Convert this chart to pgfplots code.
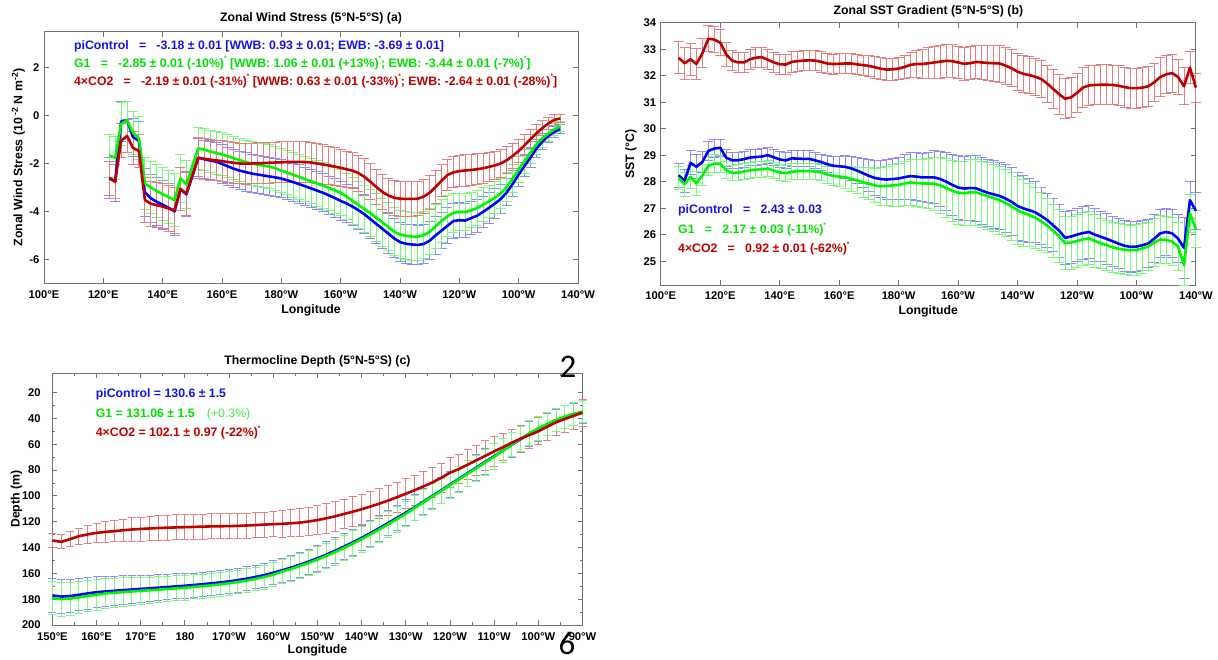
\documentclass[border=0pt]{standalone}
\usepackage{fontspec}
\setmainfont{Liberation Sans}
\newfontfamily\calib{Carlito}
\usepackage{pgfplots}
\usepackage{pgfplotstable}
\pgfplotsset{compat=1.18}
\definecolor{cB}{RGB}{0,0,255}
\definecolor{cG}{RGB}{0,245,0}
\definecolor{cR}{RGB}{190,0,0}
\definecolor{cBL}{RGB}{140,140,255}
\definecolor{cGL}{RGB}{120,250,120}
\definecolor{cRL}{RGB}{228,128,128}
\definecolor{tB}{RGB}{20,20,235}
\definecolor{tG}{RGB}{0,225,0}
\definecolor{tGL}{RGB}{70,230,70}
\definecolor{tR}{RGB}{195,0,0}
\newcommand\fT{\fontsize{12.3}{14}\selectfont\bfseries}
\newcommand\fK{\fontsize{11.2}{13}\selectfont\bfseries}
\newcommand\st{\raisebox{1.0ex}{\fontsize{6.5}{6.5}\selectfont *}}

\pgfplotstableread{
x b be g ge r re
122 -2.60 0.85 -1.67 0.9 -2.62 0.7
124 -2.75 0.85 -1.76 0.9 -2.76 0.7
126 -0.25 0.85 -0.35 0.9 -1.05 0.7
128 -0.20 0.8 -0.20 0.8 -0.85 0.7
130 -0.90 0.8 -0.72 0.9 -1.35 0.7
132 -1.05 0.8 -0.95 0.9 -1.48 0.7
134 -3.20 1.0 -2.83 1.1 -3.52 0.95
136 -3.45 1.0 -3.00 1.1 -3.68 0.95
138 -3.60 1.0 -3.15 1.1 -3.74 0.95
140 -3.72 1.0 -3.28 1.1 -3.80 0.95
142 -3.85 1.0 -3.40 1.1 -3.88 0.95
144 -4.00 1.0 -3.53 1.1 -3.95 0.95
146 -3.07 0.9 -2.62 1.0 -3.07 0.9
148 -3.29 0.9 -2.87 1.0 -3.25 0.9
152 -1.76 .8 -1.37 .88 -1.76 .85
154 -1.82 .8 -1.42 .88 -1.80 .85
156 -1.88 .8 -1.50 .88 -1.84 .85
158 -1.92 .8 -1.56 .88 -1.87 .85
160 -2.02 .8 -1.62 .9 -1.90 .85
162 -2.12 .8 -1.70 .9 -1.94 .85
164 -2.22 .8 -1.78 .9 -1.97 .85
166 -2.30 .8 -1.86 .9 -2.00 .85
168 -2.36 .8 -1.94 .9 -2.01 .85
170 -2.42 .8 -2.00 .9 -2.00 .85
172 -2.46 .8 -2.05 .92 -1.99 .85
174 -2.50 .8 -2.09 .92 -1.98 .85
176 -2.54 .8 -2.13 .92 -1.97 .85
178 -2.58 .8 -2.20 .92 -1.96 .85
180 -2.63 .8 -2.30 .92 -1.95 .85
182 -2.70 .8 -2.38 .93 -1.94 .85
184 -2.78 .8 -2.47 .93 -1.93 .85
186 -2.86 .8 -2.56 .93 -1.93 .85
188 -2.95 .8 -2.65 .94 -1.94 .85
190 -3.04 .8 -2.74 .94 -1.96 .85
192 -3.13 .8 -2.83 .95 -2.00 .83
194 -3.22 .8 -2.92 .95 -2.04 .82
196 -3.33 .8 -3.02 .95 -2.08 .8
198 -3.44 .8 -3.12 .96 -2.13 .8
200 -3.56 .8 -3.22 .96 -2.18 .78
202 -3.67 .8 -3.38 .97 -2.24 .76
204 -3.80 .8 -3.56 .97 -2.30 .75
206 -3.95 .8 -3.73 .98 -2.40 .75
208 -4.12 .8 -3.90 .98 -2.56 .75
210 -4.32 .8 -4.08 .98 -2.76 .75
212 -4.52 .82 -4.26 1.0 -2.98 .74
214 -4.72 .82 -4.45 1.0 -3.18 .73
216 -4.92 .82 -4.64 1.0 -3.33 .72
218 -5.12 .82 -4.84 1.0 -3.43 .72
220 -5.28 .82 -4.96 1.0 -3.47 .72
222 -5.35 .82 -5.02 1.0 -3.48 .72
224 -5.38 .82 -5.05 1.0 -3.48 .72
226 -5.40 .8 -5.05 1.0 -3.47 .71
228 -5.36 .8 -5.00 .98 -3.38 .7
230 -5.22 .8 -4.85 .96 -3.22 .7
232 -5.00 .78 -4.62 .93 -2.98 .68
234 -4.80 .76 -4.40 .9 -2.72 .66
236 -4.60 .75 -4.20 .85 -2.48 .65
238 -4.40 .74 -4.06 .8 -2.37 .65
240 -4.37 .73 -4.02 .78 -2.32 .65
242 -4.38 .72 -4.03 .76 -2.29 .65
244 -4.28 .7 -3.95 .74 -2.27 .65
246 -4.18 .68 -3.86 .72 -2.24 .64
248 -4.02 .66 -3.72 .7 -2.20 .63
250 -3.85 .64 -3.58 .68 -2.14 .62
252 -3.67 .62 -3.42 .65 -2.08 .6
254 -3.48 .6 -3.25 .62 -2.00 .58
256 -3.20 .57 -2.98 .6 -1.86 .55
258 -2.85 .54 -2.62 .57 -1.68 .52
260 -2.46 .5 -2.25 .54 -1.48 .48
262 -2.10 .46 -1.90 .5 -1.24 .44
264 -1.75 .42 -1.55 .46 -0.98 .4
266 -1.38 .38 -1.20 .42 -0.74 .36
268 -1.08 .33 -0.95 .37 -0.52 .32
270 -0.85 .28 -0.75 .32 -0.33 .27
272 -0.68 .23 -0.58 .26 -0.18 .22
274 -0.56 .18 -0.46 .2 -0.12 .17
}\tabA

\pgfplotstableread{
x b be g ge r re
106 28.24 .45 28.14 .45 32.68 .6
108 28.03 .45 27.90 .45 32.47 .6
110 28.71 .45 28.18 .45 32.62 .6
112 28.56 .45 27.93 .45 32.44 .6
114 28.75 .4 28.24 .4 32.85 .55
116 29.16 .35 28.60 .35 33.40 .5
118 29.25 .33 28.68 .33 33.36 .5
120 29.28 .32 28.68 .32 33.25 .5
122 28.90 .32 28.43 .32 32.80 .45
124 28.81 .3 28.33 .3 32.57 .38
126 28.81 .3 28.34 .3 32.50 .38
128 28.85 .3 28.38 .3 32.50 .38
130 28.91 .3 28.43 .3 32.62 .38
132 28.93 .3 28.45 .3 32.68 .38
134 28.95 .3 28.47 .3 32.70 .38
136 29.00 .3 28.49 .3 32.60 .38
138 28.92 .3 28.42 .3 32.50 .38
140 28.84 .3 28.35 .3 32.43 .38
142 28.80 .3 28.32 .3 32.42 .38
144 28.88 .3 28.37 .3 32.52 .38
146 28.87 .3 28.40 .3 32.55 .38
148 28.86 .3 28.40 .3 32.57 .38
150 28.86 .3 28.40 .3 32.58 .38
152 28.80 .3 28.38 .3 32.57 .38
154 28.74 .3 28.35 .3 32.52 .38
156 28.66 .32 28.27 .32 32.46 .38
158 28.60 .35 28.22 .35 32.44 .38
160 28.58 .38 28.19 .38 32.45 .38
162 28.56 .42 28.17 .42 32.46 .38
164 28.50 .46 28.10 .46 32.46 .38
166 28.42 .5 28.05 .5 32.43 .38
168 28.32 .55 27.97 .55 32.40 .38
170 28.22 .6 27.92 .6 32.37 .38
172 28.14 .65 27.86 .65 32.32 .42
174 28.10 .7 27.82 .7 32.26 .42
176 28.08 .75 27.84 .75 32.23 .42
178 28.10 .78 27.86 .78 32.24 .42
180 28.12 .8 27.88 .8 32.27 .42
182 28.17 .84 27.93 .84 32.33 .45
184 28.21 .88 27.97 .88 32.41 .48
186 28.19 .9 27.95 .9 32.44 .5
188 28.16 .92 27.93 .92 32.44 .55
190 28.16 .95 27.93 .95 32.47 .58
192 28.16 1.0 27.92 1.0 32.50 .6
194 28.10 1.05 27.86 1.05 32.53 .62
196 28.00 1.1 27.76 1.1 32.56 .62
198 27.88 1.15 27.66 1.15 32.55 .62
200 27.78 1.2 27.58 1.2 32.50 .62
202 27.74 1.22 27.56 1.22 32.45 .62
204 27.76 1.24 27.60 1.24 32.47 .62
206 27.75 1.25 27.60 1.25 32.52 .62
208 27.66 1.26 27.52 1.26 32.50 .65
210 27.58 1.26 27.45 1.26 32.48 .67
212 27.52 1.27 27.38 1.27 32.47 .68
214 27.46 1.28 27.30 1.28 32.46 .7
216 27.36 1.28 27.20 1.28 32.38 .7
218 27.24 1.28 27.07 1.28 32.28 .7
220 27.08 1.28 26.92 1.28 32.15 .7
222 26.99 1.25 26.82 1.25 32.07 .7
224 26.92 1.2 26.74 1.2 32.02 .7
226 26.84 1.15 26.64 1.15 31.96 .7
228 26.70 1.08 26.50 1.08 31.87 .7
230 26.55 1.02 26.34 1.02 31.70 .7
232 26.35 1.0 26.14 1.0 31.50 .75
234 26.15 1.0 25.94 1.0 31.30 .75
236 25.88 1.0 25.68 1.0 31.13 .75
238 25.93 1.0 25.70 1.0 31.18 .75
240 26.00 1.0 25.76 1.0 31.35 .75
242 26.06 1.0 25.82 1.0 31.55 .75
244 26.10 1.0 25.86 1.0 31.63 .75
246 26.00 1.0 25.76 1.0 31.65 .75
248 25.92 .95 25.68 .95 31.66 .75
250 25.84 .95 25.60 .95 31.66 .75
252 25.75 .95 25.52 .95 31.65 .75
254 25.66 .95 25.47 .95 31.62 .75
256 25.58 .95 25.43 .95 31.57 .75
258 25.54 .95 25.41 .95 31.53 .75
260 25.55 .95 25.42 .95 31.53 .75
262 25.60 .95 25.48 .95 31.55 .75
264 25.67 .9 25.55 .9 31.60 .75
266 25.85 .9 25.70 .9 31.75 .72
268 26.05 .9 25.82 .9 31.95 .72
270 26.10 .9 25.80 .9 32.05 .72
272 26.05 .9 25.74 .9 32.10 .72
274 25.85 .9 25.55 .9 31.95 .65
276 25.50 1.15 24.85 .75 31.60 .7
278 27.30 .7 26.80 .7 32.30 .6
280 26.90 .7 26.20 .7 31.55 .55
}\tabB

\pgfplotstableread{
x b be g ge r re
150 177.1 13 179.1 13 134.5 5.2
152 178.0 13 180.0 13 135.6 5.4
154 177.6 12.8 179.6 12.8 133.5 5.8
156 176.6 12.5 178.6 12.5 131.2 6.3
158 175.5 12.2 177.5 12.2 129.8 6.8
160 174.6 12 176.6 12 128.6 7.3
162 174.0 11.7 175.5 11.7 127.9 7.8
164 173.5 11.4 175.0 11.4 127.3 8.2
166 173.0 11.1 174.5 11.1 126.6 8.6
168 172.5 10.8 174.0 10.8 126.0 9.0
170 172.0 10.5 173.5 10.5 125.6 9.3
172 171.6 10.3 173.1 10.3 125.2 9.5
174 171.1 10.1 172.6 10.1 124.9 9.7
176 170.6 9.9 172.1 9.9 124.6 9.7
178 170.1 9.7 171.6 9.7 124.4 9.7
180 169.6 9.5 171.1 9.5 124.2 9.7
182 169.0 9.3 170.5 9.3 124.0 9.7
184 168.4 9.2 169.9 9.2 123.8 9.7
186 167.7 9.2 169.2 9.2 123.6 9.7
188 167.0 9.2 168.5 9.2 123.5 9.7
190 166.2 9.2 167.7 9.2 123.4 9.7
192 165.2 9.2 166.7 9.2 123.2 9.7
194 164.1 9.2 165.6 9.2 122.9 9.7
196 162.8 9.2 164.3 9.2 122.6 9.7
198 161.3 9.3 162.8 9.3 122.2 9.7
200 159.5 9.4 161.0 9.4 121.9 9.8
202 157.6 9.5 158.6 9.5 121.6 10.2
204 155.6 9.6 156.6 9.6 121.2 10.5
206 153.3 9.7 154.3 9.7 120.7 10.8
208 150.9 9.8 151.9 9.8 119.8 11.0
210 148.3 9.9 149.3 9.9 118.7 11.2
212 145.5 10 146.5 10 117.3 11.4
214 142.5 10 143.5 10 115.8 11.5
216 139.3 10 140.3 10 114.0 11.5
218 136.0 10 137.0 10 112.2 11.5
220 132.5 10 133.5 10 110.3 11.5
222 128.8 10 129.8 10 108.2 11.5
224 125.0 10 126.0 10 106.0 11.5
226 121.0 10 122.0 10 103.6 11.5
228 117.0 10 118.0 10 101.0 11.5
230 113.0 10 114.0 10 98.3 11.5
232 108.8 10 109.3 10 95.6 11.5
234 104.5 10 105.0 10 92.6 11.5
236 100.0 10 100.5 10 89.6 11.5
238 95.6 10 96.1 10 86.0 11.5
240 91.2 10 91.7 10 82.0 11.5
242 86.8 10 87.3 10 79.2 11.5
244 82.4 10 82.9 10 75.8 11.5
246 78.0 10 78.5 10 72.4 11.5
248 73.5 10 74.0 10 68.9 11.5
250 69.2 10 69.7 10 65.5 11.5
252 64.8 9.5 64.8 9.5 62.2 10.5
254 60.4 9.5 60.2 9.5 58.8 10.5
256 56.0 9.5 55.7 9.5 55.6 10.5
258 51.8 9.5 51.4 9.5 52.8 10.5
260 48.0 9.5 47.6 9.5 50.0 10.5
262 44.6 8.8 44.2 8.8 46.4 10.5
264 41.5 8.8 41.1 8.8 43.0 10.5
266 39.0 8.8 38.6 8.8 40.4 10.5
268 36.8 8.8 36.4 8.8 37.9 10.5
270 35.0 8.8 34.6 8.8 35.5 10.5
}\tabC

\pgfplotsset{
  panel/.style={
    scale only axis, anchor=south west, clip=false,
    axis line style={draw=black!55, line width=0.9pt},
    tick style={draw=black!55, line width=0.9pt},
    major tick length=5pt, minor tick length=3pt,
    tick align=inside,
    ticklabel style={font=\fK},
    xticklabel style={anchor=base, yshift=-15pt, inner sep=0pt},
    yticklabel style={anchor=east, inner sep=0pt, xshift=-4.5pt},
    every axis title/.style={font=\fT, at={(axis description cs:0.5,1)}, anchor=base},
    every axis x label/.style={font=\fT, at={(axis description cs:0.5,0)}, anchor=base, yshift=-30pt},
  },
  ebar/.style 2 args={draw=none, forget plot, mark=none,
    error bars/y dir=both, error bars/y explicit,
    error bars/error bar style={draw=#1, line width=0.9pt},
    error bars/error mark options={rotate=90, mark size=#2, draw=#1, line width=0.9pt}},
  mline/.style={draw=#1, line width=2.6pt, mark=none, line join=round},
}

\begin{document}
\begin{tikzpicture}
\path[use as bounding box] (0pt,0pt) rectangle (1218pt,659pt);

% ---------------- (a)
\begin{axis}[panel, at={(44pt,375.7pt)}, width=534pt, height=251.6pt,
  xmin=100, xmax=280, ymin=-7, ymax=3.5,
  xtick={100,120,...,280},
  xticklabels={100°E,120°E,140°E,160°E,180°W,160°W,140°W,120°W,100°W,140°W},
  ytick={-6,-4,-2,0,2}, yticklabels={-6,-4,-2,0,2},
  title={Zonal Wind Stress (5°N-5°S) (a)}, title style={yshift=10.4pt},
  xlabel={Longitude},
  ylabel={Zonal Wind Stress (10\textsuperscript{ -2} N m\textsuperscript{-2})},
  every axis y label/.style={font=\fT, rotate=90, anchor=center, at={(axis description cs:-0.048,0.5)}},
]
\addplot[ebar={cBL}{5pt}] table[x=x,y=b,y error=be]{\tabA};
\addplot[ebar={cGL}{5pt}] table[x=x,y=g,y error=ge]{\tabA};
\addplot[ebar={cRL}{5pt}] table[x=x,y=r,y error=re]{\tabA};
\addplot[mline=cB] table[x=x,y=b]{\tabA};
\addplot[mline=cG] table[x=x,y=g]{\tabA};
\addplot[mline=cR] table[x=x,y=r]{\tabA};
\node[anchor=base west, inner sep=0pt, font=\fT, text=tB] at (axis description cs:0.056,0.9304)
  {piControl\ \ \ =\ \ \ -3.18 ± 0.01 [WWB: 0.93 ± 0.01; EWB: -3.69 ± 0.01]};
\node[anchor=base west, inner sep=0pt, font=\fT, text=tG] at (axis description cs:0.056,0.8577)
  {G1\ \ \ =\ \ \ -2.85 ± 0.01 (-10\%)\st\ [WWB: 1.06 ± 0.01 (+13\%)\st; EWB: -3.44 ± 0.01 (-7\%)\st]};
\node[anchor=base west, inner sep=0pt, font=\fT, text=tR] at (axis description cs:0.056,0.7874)
  {4×CO2\ \ \ =\ \ \ -2.19 ± 0.01 (-31\%)\st\ [WWB: 0.63 ± 0.01 (-33\%)\st; EWB: -2.64 ± 0.01 (-28\%)\st]};
\end{axis}

% ---------------- (b)
\begin{axis}[panel, at={(660.8pt,374pt)}, width=535.1pt, height=262.3pt,
  xmin=100, xmax=280, ymin=24.1, ymax=34,
  xtick={100,120,...,280},
  xticklabels={100°E,120°E,140°E,160°E,180°W,160°W,140°W,120°W,100°W,140°W},
  ytick={25,26,...,34}, yticklabels={25,26,27,28,29,30,31,32,33,34},
  title={Zonal SST Gradient (5°N-5°S) (b)}, title style={yshift=8.7pt},
  xlabel={Longitude},
  ylabel={SST (°C)},
  every axis y label/.style={font=\fT, rotate=90, anchor=center, at={(axis description cs:-0.056,0.5)}},
]
\addplot[ebar={cBL}{5pt}] table[x=x,y=b,y error=be]{\tabB};
\addplot[ebar={cGL}{5pt}] table[x=x,y=g,y error=ge]{\tabB};
\addplot[ebar={cRL}{5pt}] table[x=x,y=r,y error=re]{\tabB};
\addplot[mline=cB] table[x=x,y=b]{\tabB};
\addplot[mline=cG] table[x=x,y=g]{\tabB};
\addplot[mline=cR] table[x=x,y=r]{\tabB};
\node[anchor=base west, inner sep=0pt, font=\fT, text=tB] at (axis description cs:0.0321,0.2726)
  {piControl\ \ \ =\ \ \ 2.43 ± 0.03};
\node[anchor=base west, inner sep=0pt, font=\fT, text=tG] at (axis description cs:0.0321,0.1963)
  {G1\ \ \ =\ \ \ 2.17 ± 0.03 (-11\%)\st};
\node[anchor=base west, inner sep=0pt, font=\fT, text=tR] at (axis description cs:0.0321,0.1239)
  {4×CO2\ \ \ =\ \ \ 0.92 ± 0.01 (-62\%)\st};
\end{axis}

% ---------------- (c)
\begin{axis}[panel, at={(52.4pt,34pt)}, width=530.1pt, height=251.7pt,
  xmin=150, xmax=270, ymin=-200, ymax=-5,
  xtick={150,160,...,270},
  xticklabels={150°E,160°E,170°E,180,170°W,160°W,150°W,140°W,130°W,120°W,110°W,100°W,90°W},
  minor x tick num=1,
  ytick={-200,-180,...,-20}, yticklabels={200,180,160,140,120,100,80,60,40,20},
  minor y tick num=1,
  yticklabel style={xshift=-7pt},
  title={Thermocline Depth (5°N-5°S) (c)}, title style={yshift=9.3pt},
  xlabel={Longitude}, xlabel style={yshift=1.7pt},
  ylabel={Depth (m)},
  every axis y label/.style={font=\fT, rotate=90, anchor=center, at={(axis description cs:-0.068,0.5)}},
]
\addplot[ebar={cRL}{4pt}] table[x=x,y expr=-\thisrow{r},y error=re]{\tabC};
\addplot[ebar={cBL}{4pt}] table[x=x,y expr=-\thisrow{b},y error=be]{\tabC};
\addplot[ebar={cGL}{4pt}] table[x=x,y expr=-\thisrow{g},y error=ge]{\tabC};
\addplot[mline=cB] table[x=x,y expr=-\thisrow{b}]{\tabC};
\addplot[mline=cG] table[x=x,y expr=-\thisrow{g}]{\tabC};
\addplot[mline=cR] table[x=x,y expr=-\thisrow{r}]{\tabC};
\node[anchor=base west, inner sep=0pt, font=\fT, text=tB] at (axis description cs:0.0817,0.9039)
  {piControl = 130.6 ± 1.5};
\node[anchor=base west, inner sep=0pt, font=\fT, text=tG] at (axis description cs:0.0817,0.8244)
  {G1 = 131.06 ± 1.5};
\node[anchor=base west, inner sep=0pt, font=\fontsize{12.3}{14}\selectfont, text=tGL] at (axis description cs:0.2911,0.8244)
  {(+0.3\%)};
\node[anchor=base west, inner sep=0pt, font=\fT, text=tR] at (axis description cs:0.0817,0.7473)
  {4×CO2 = 102.1 ± 0.97 (-22\%)\st};
\end{axis}

\node[anchor=base, inner sep=0pt, font=\calib\fontsize{33}{33}\selectfont] at (568pt,281pt) {2};
\node[anchor=base, inner sep=0pt, font=\calib\fontsize{33}{33}\selectfont] at (567pt,5pt) {6};
\end{tikzpicture}
\end{document}
